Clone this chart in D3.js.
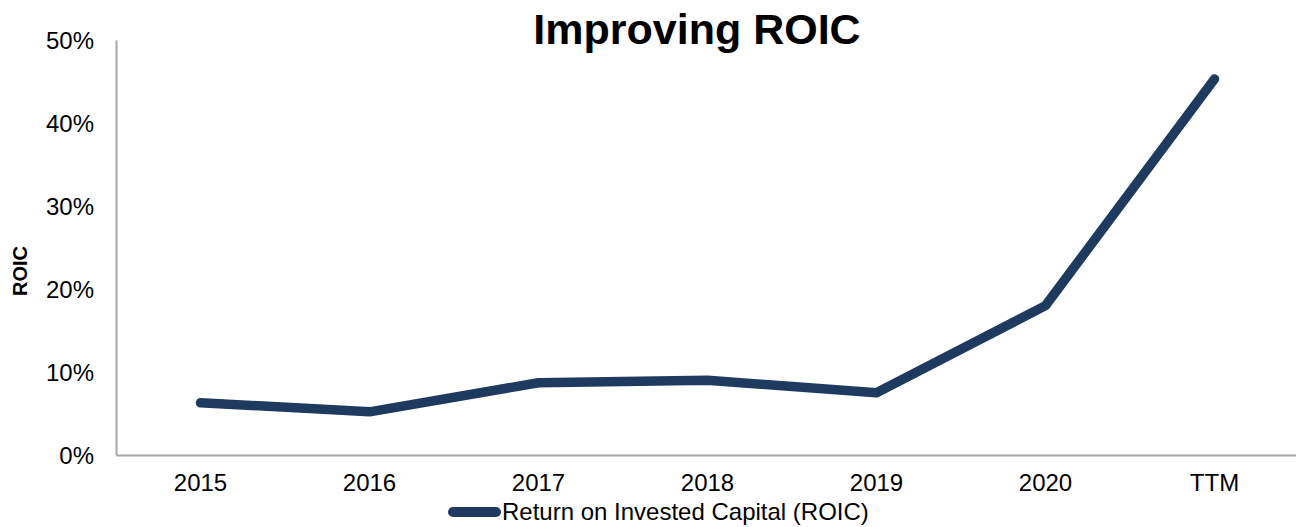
<!DOCTYPE html>
<html>
<head>
<meta charset="UTF-8">
<title>Improving ROIC</title>
<style>
  body { margin: 0; background: #fff; }
  text { font-family: "Liberation Sans", Arial, sans-serif; fill: #000; }
</style>
</head>
<body>
<svg width="1296" height="527"></svg>
<script src="https://cdn.jsdelivr.net/npm/d3@7"></script>
<script>
var categories = ["2015", "2016", "2017", "2018", "2019", "2020", "TTM"];
var roic = [6.3, 5.2, 8.7, 9.0, 7.5, 18.0, 45.3];
var yTicks = [0, 10, 20, 30, 40, 50];

var data = categories.map(function (c, i) { return { cat: c, v: roic[i] }; });

var svg = d3.select("svg"),
    MARGINS = { top: 40, right: -3, bottom: 72, left: 116 },
    WIDTH = +svg.attr("width"),
    HEIGHT = +svg.attr("height");

var xScale = d3.scaleBand()
    .domain(categories)
    .range([MARGINS.left, WIDTH - MARGINS.right]);
var yScale = d3.scaleLinear()
    .domain([0, 50])
    .range([HEIGHT - MARGINS.bottom, MARGINS.top]);

var gridColor = "#a6a6a6";

// y axis
var yAxis = svg.append("g")
    .attr("transform", "translate(" + MARGINS.left + ",0)")
    .call(d3.axisLeft(yScale).tickValues(yTicks).tickSize(0).tickPadding(22)
        .tickFormat(function (d) { return d + "%"; }));
yAxis.select(".domain").attr("stroke", gridColor).attr("stroke-width", 2);
yAxis.selectAll("text").style("font-size", "24px").attr("dy", "0.36em");

// x axis
var xAxis = svg.append("g")
    .attr("transform", "translate(0," + (HEIGHT - MARGINS.bottom) + ")")
    .call(d3.axisBottom(xScale).tickSize(0).tickPadding(19));
xAxis.select(".domain").attr("stroke", gridColor).attr("stroke-width", 2);
xAxis.selectAll("text").style("font-size", "24px");

// line
var lineGen = d3.line()
    .x(function (d) { return xScale(d.cat) + xScale.bandwidth() / 2; })
    .y(function (d) { return yScale(d.v); });

svg.append("path")
    .attr("d", lineGen(data))
    .attr("fill", "none")
    .attr("stroke", "#1f3a5f")
    .attr("stroke-width", 9.5)
    .attr("stroke-linecap", "round")
    .attr("stroke-linejoin", "round");

// title
svg.append("text")
    .attr("x", 697).attr("y", 44)
    .attr("text-anchor", "middle")
    .style("font-size", "43px").style("font-weight", "bold")
    .text("Improving ROIC");

// y label
svg.append("text")
    .attr("transform", "translate(27,271) rotate(-90)")
    .attr("text-anchor", "middle")
    .style("font-size", "20px").style("font-weight", "bold")
    .text("ROIC");

// legend
svg.append("line")
    .attr("x1", 453).attr("x2", 496)
    .attr("y1", 512).attr("y2", 512)
    .attr("stroke", "#1f3a5f").attr("stroke-width", 10)
    .attr("stroke-linecap", "round");
svg.append("text")
    .attr("x", 502).attr("y", 520)
    .style("font-size", "24px")
    .text("Return on Invested Capital (ROIC)");
</script>
</body>
</html>
